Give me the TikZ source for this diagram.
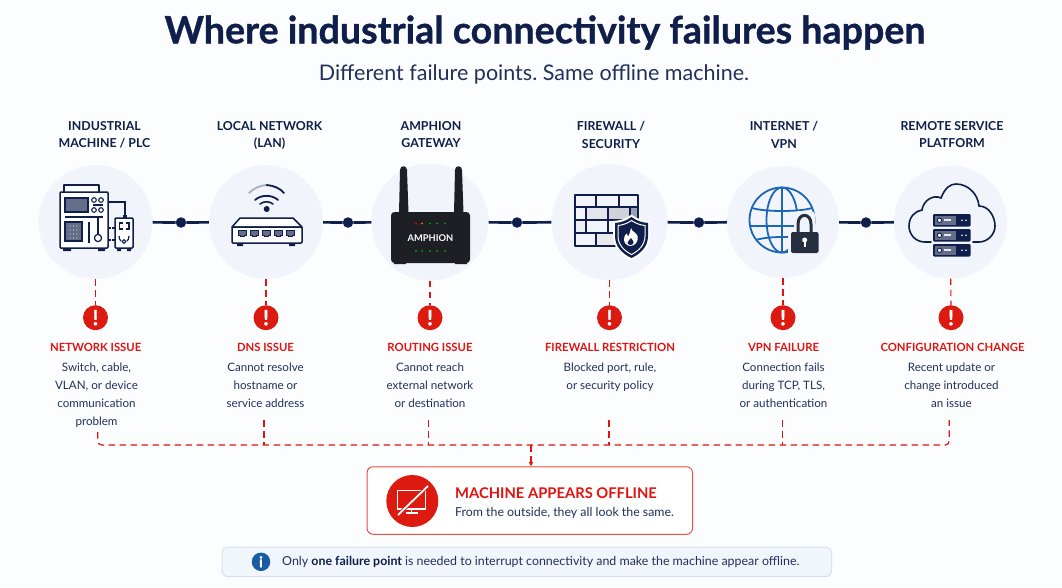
\documentclass[tikz,border=0pt]{standalone}
\usepackage{fontspec}
\setmainfont{Lato}
\newfontfamily\titlefont[BoldFeatures={FakeBold=0.9}]{Lato}
\usetikzlibrary{arrows.meta}
\definecolor{navy}{HTML}{0F1E4A}
\definecolor{inkblue}{HTML}{22305A}
\definecolor{halo}{HTML}{F1F4FB}
\definecolor{alert}{HTML}{E0130F}
\definecolor{alertdark}{HTML}{DC1A10}
\definecolor{panelgray}{HTML}{646E88}
\definecolor{globeblue}{HTML}{1B66B5}
\definecolor{noteback}{HTML}{F1F5FC}
\definecolor{noteedge}{HTML}{D5E0F1}
\definecolor{lockdark}{HTML}{252F3F}
\definecolor{gatewaybody}{HTML}{1D1F24}
\newcommand{\px}[1]{\fontsize{#1}{#1}\selectfont}
\frenchspacing
\tikzset{
  hub/.style={circle,fill=halo,minimum size=114pt,inner sep=0pt},
  joint/.style={circle,fill=navy,minimum size=10.5pt,inner sep=0pt},
  link/.style={navy,line width=2.7pt},
  faultline/.style={alert,line width=1.2pt,dash pattern=on 6.5pt off 4.5pt},
  badge/.style={circle,fill=alertdark,minimum size=25pt,inner sep=0pt,text=white,font=\px{21}\titlefont\bfseries},
  heading/.style={navy,font=\px{12.35}\bfseries,align=center,text depth=0pt,inner sep=0pt},
  faulttitle/.style={alert,font=\px{11.3}\bfseries,inner sep=0pt},
  faultbody/.style={inkblue,font=\px{11.6},align=center,inner sep=0pt},
  iconline/.style={navy,line width=1.5pt,line join=round},
}
\begin{document}
\begin{tikzpicture}[x=1pt,y=-1pt]
\useasboundingbox (0,0) rectangle (1062,587);
\fill[white!80!halo] (0,0) rectangle (1062,587);

% title block
\node[name=title,navy,inner sep=0pt,font=\px{37.6}\titlefont\bfseries] at (545,32.5) {Where industrial connectivity failures happen};
\node[name=subtitle,inkblue,inner sep=0pt,font=\px{21.5}] at (534,74.5) {Different failure points. Same offline machine.};

% column headings
\node[heading,name=h1] at (104.5,134.5) {INDUSTRIAL\\[5.5pt]MACHINE / PLC};
\node[heading,name=h2] at (269.5,134.5) {LOCAL NETWORK\\[5.5pt](LAN)};
\node[heading,name=h3] at (431,134.5) {AMPHION\\[5.5pt]GATEWAY};
\node[heading,name=h4] at (611,134.5) {FIREWALL /\\[5.5pt]SECURITY};
\node[heading,name=h5] at (784,134.5) {INTERNET /\\[5.5pt]VPN};
\node[heading,name=h6] at (952,134.5) {REMOTE SERVICE\\[5.5pt]PLATFORM};

% hubs and the chain joining them
\node[hub,name=c1] at (95.5,222) {};
\node[hub,name=c2] at (266,222) {};
\node[hub,name=c3,minimum size=117pt] at (430,222) {};
\node[hub,name=c4,minimum size=116pt] at (609.5,222) {};
\node[hub,name=c5,minimum size=112pt] at (783,222) {};
\node[hub,name=c6,minimum size=113pt] at (950.5,222) {};
\node[joint,name=d1] at (181,222.5) {};
\node[joint,name=d2] at (348,222.5) {};
\node[joint,name=d3] at (517,222.5) {};
\node[joint,name=d4] at (699,222.5) {};
\node[joint,name=d5] at (866,222.5) {};
\draw[link] (c1) -- (d1) -- (c2);
\draw[link] (c2) -- (d2) -- (c3);
\draw[link] (c3) -- (d3) -- (c4);
\draw[link] (c4) -- (d4) -- (c5);
\draw[link] (c5) -- (d5) -- (c6);

% machine and controller icon
\draw[iconline,fill=white] (64,192) -- (64,185) -- (99,185) -- (99,192);
\draw[iconline,fill=white,rounded corners=1pt] (60,192) rectangle (108,248);
\fill[navy] (63,248) rectangle (71,251) (98,248) rectangle (105,251);
\draw[navy,line width=1.1pt,fill=panelgray] (65,198) rectangle (88,212);
\foreach \cx in {94,101} \foreach \cy in {200,210} \draw[navy,line width=1.1pt] (\cx,\cy) circle (2.3);
\draw[navy,line width=1.1pt] (93,205) -- (103,205) (65,217) -- (103,217);
\draw[navy,line width=1.1pt,fill=panelgray] (65,222) rectangle (82,241);
\foreach \cx in {70,73.5,77} \foreach \cy in {226,230,234,238} \fill[white!80!panelgray] (\cx,\cy) circle (.6);
\draw[navy,line width=1.2pt] (89,222) -- (89,243) (98,217) -- (98,234.5);
\draw[navy,line width=1.2pt] (98,238) circle (3.6);
\draw[navy,line width=1.2pt] (108,202) -- (125,202) -- (125,217);
\draw[navy,line width=1.2pt,dash pattern=on 2.5pt off 1.5pt] (108,228) -- (115,228) (108,240) -- (115,240);
\fill[navy] (123,214.5) rectangle (127,218);
\draw[iconline,fill=white,rounded corners=1pt] (115,218) rectangle (133,248);
\fill[navy] (117,248) rectangle (121,251) (127,248) rectangle (131,251);
\draw[navy,line width=1.2pt] (122.5,223) -- (119.5,223) -- (119.5,229) -- (122.5,229) (126,223) -- (129,223) -- (129,229) -- (126,229);
\draw[navy,line width=1pt] (124,241.5) circle (1.9);
\draw[navy,line width=1.2pt] (119,236) .. controls (119,239) and (120,240) .. (121,241) (129,236) .. controls (129,239) and (128,240) .. (127,241);

% switch with wireless signal
\fill[navy] (266.7,209) circle (3);
\draw[navy,line width=1.6pt,line cap=round] (260,204) .. controls (264,201) and (269,201) .. (273,204);
\draw[navy,line width=1.8pt,line cap=round] (255,200) .. controls (261,194.5) and (272,194.5) .. (278,200);
\draw[panelgray!55,line width=1.8pt,line cap=round] (249,193) .. controls (254,188) and (260,185.5) .. (266.7,185);
\draw[navy,line width=1.8pt,line cap=round] (266.7,185) .. controls (273,185.5) and (280,188) .. (284,193);
\draw[iconline,fill=white] (240,218) -- (293,218) -- (302,227) -- (232,227) -- cycle;
\draw[iconline,fill=white,rounded corners=1pt] (232,227) rectangle (302,243);
\fill[navy] (237,243) rectangle (243,246) (289,243) rectangle (295,246);
\foreach \cx in {242,254,266,278,290} \fill[panelgray,draw=navy,line width=1pt] (\cx-4,230) -- (\cx+4,230) -- (\cx+4,235) -- (\cx+2,235) -- (\cx+2,236.5) -- (\cx-2,236.5) -- (\cx-2,235) -- (\cx-4,235) -- cycle;

% gateway with antennas
\fill[gatewaybody] (399,213) -- (400,170) .. controls (400,165) and (407,165) .. (407,170) -- (408.5,213) -- cycle;
\fill[gatewaybody] (454,213) -- (455,170) .. controls (455,165) and (462,165) .. (462,170) -- (463.5,213) -- cycle;
\fill[gatewaybody,rounded corners=3.5pt] (391,212) rectangle (470,263);
\fill[gatewaybody] (394,263) rectangle (406,264) (455,263) rectangle (467,264);
\foreach \cx/\led in {416/red!85!black,422/orange!70!red,430/green!60!black,437/green!65!black,445/green!60!black}
  \fill[\led] (\cx,223.5) circle (1.1);
\foreach \cx in {416,422,430,437,445} \fill[green!60!black] (\cx,251) circle (1.1);
\node[name=gwlabel,white,inner sep=0pt,font=\px{9.3}\bfseries] at (430.5,238) {AMPHION};

% brick wall and shield
\fill[panelgray!18] (586,207) rectangle (608,220);
\fill[panelgray!30] (608,207) rectangle (630,220);
\fill[panelgray!65] (630,207) rectangle (638,220);
\fill[panelgray!12] (575,220) rectangle (586,233);
\fill[panelgray!15] (596,233) rectangle (619,246);
\draw[navy,line width=1.4pt,line join=round] (575,195) rectangle (638,246);
\draw[navy,line width=1.3pt] (575,207) -- (638,207) (575,220) -- (638,220) (575,233) -- (638,233)
  (596,195) -- (596,207) (619,195) -- (619,207)
  (586,207) -- (586,233) (608,207) -- (608,233) (630,207) -- (630,220)
  (596,233) -- (596,246) (619,233) -- (619,246);
\path[fill=white] (631.5,214.5) .. controls (637,219) and (643,220.5) .. (650,221) -- (650,236) .. controls (650,248) and (641,256) .. (631.5,260.5) .. controls (622,256) and (613,248) .. (613,236) -- (613,221) .. controls (620,220.5) and (626,219) .. (631.5,214.5) -- cycle;
\path[fill=navy] (631.5,217) .. controls (637,221) and (642,222.5) .. (648,223) -- (648,236) .. controls (648,247) and (640,254) .. (631.5,258) .. controls (623,254) and (615,247) .. (615,236) -- (615,223) .. controls (621,222.5) and (626,221) .. (631.5,217) -- cycle;
\draw[white,line width=1pt] (631.5,220.5) .. controls (636,223.5) and (640,225) .. (645,225.5) -- (645,236) .. controls (645,245) and (638.5,251) .. (631.5,254.5) .. controls (624.5,251) and (618,245) .. (618,236) -- (618,225.5) .. controls (623,225) and (627,223.5) .. (631.5,220.5) -- cycle;
\path[fill=white] (631,228) .. controls (632,232) and (636,232) .. (637.5,236) .. controls (639,241) and (635,246) .. (630.5,246) .. controls (626,246) and (622.5,241.5) .. (624.5,236.5) .. controls (625,235) and (626,234) .. (627,233.5) .. controls (627,235) and (627.5,236) .. (628.5,236) .. controls (630,234) and (630,231) .. (631,228) -- cycle;
\path[fill=navy] (631,238) .. controls (632.5,240) and (633.5,241) .. (633.5,242.5) .. controls (633.5,244) and (632,245) .. (630.5,245) .. controls (629,245) and (627.5,244) .. (627.5,242.5) .. controls (627.5,241) and (630,240) .. (631,238) -- cycle;

% globe with padlock
\begin{scope}[globeblue,line width=1.8pt]
  \draw (782,220) circle (32.5);
  \draw (782,187.5) -- (782,252.5);
  \draw (782,220) ellipse (15.5 and 32.5);
  \draw (752,208) .. controls (765,212) and (799,212) .. (812,208);
  \draw (750,226) -- (814,226);
  \draw (756,240) .. controls (768,236) and (796,236) .. (808,240);
\end{scope}
\fill[halo,rounded corners=4pt] (794,211) rectangle (815,232);
\fill[halo,rounded corners=3pt] (788,229) rectangle (821,256);
\draw[lockdark,line width=3pt] (798,233) -- (798,224) .. controls (798,212.5) and (811,212.5) .. (811,224) -- (811,233);
\fill[lockdark,rounded corners=2pt] (791,232) rectangle (818.5,253);
\fill[white] (804.7,240) circle (2.5);
\fill[white] (803.5,240) rectangle (806,247);

% cloud with server stack
\draw[navy,line width=1.6pt,line cap=round] (931,242) -- (925,242) .. controls (915,242) and (909,234) .. (909,226) .. controls (909,217) and (915,211) .. (922,210) .. controls (923,201) and (933,194) .. (941,198) .. controls (945,188) and (950,184) .. (956,184) .. controls (968,184) and (978,194) .. (979,206) .. controls (989,206) and (995,217) .. (995,226) .. controls (995,235) and (987,242) .. (979,242) -- (973,242);
\foreach \ty in {214,229,244} {
  \fill[navy,rounded corners=1.2pt] (933,\ty) rectangle (970.5,\ty+12.5);
  \fill[panelgray] (935,\ty+1.5) rectangle (956,\ty+11);
  \draw[navy,fill=white,line width=.9pt] (939.5,\ty+6.3) circle (2.2);
  \fill[white!85!panelgray] (944,\ty+5.4) rectangle (951,\ty+7.2);
  \fill[white] (962,\ty+6.3) circle (.9) (966,\ty+6.3) circle (.9);
}

% alert badges
\node[badge,name=b1] at (95.5,317.7) {!};
\node[badge,name=b2] at (266,317.7) {!};
\node[badge,name=b3] at (430,317.7) {!};
\node[badge,name=b4] at (609.5,317.7) {!};
\node[badge,name=b5] at (783,317.7) {!};
\node[badge,name=b6] at (951,317.7) {!};
\foreach \n in {1,...,6} \draw[faultline] (c\n) -- (b\n);

% fault descriptions
\node[faulttitle,name=f1] at (95.7,347.2) {NETWORK ISSUE};
\node[faulttitle,name=f2] at (265.5,347.2) {DNS ISSUE};
\node[faulttitle,name=f3] at (430,347.2) {ROUTING ISSUE};
\node[faulttitle,name=f4] at (610,347.2) {FIREWALL RESTRICTION};
\node[faulttitle,name=f5] at (783.5,347.2) {VPN FAILURE};
\node[faulttitle,name=f6] at (952.5,347.2) {CONFIGURATION CHANGE};
\node[faultbody,name=t1,anchor=north] at (96.5,363) {Switch, cable,\\[6.4pt]VLAN, or device\\[6.4pt]communication\\[6.4pt]problem};
\node[faultbody,name=t2,anchor=north] at (265.5,363) {Cannot resolve\\[6.4pt]hostname or\\[6.4pt]service address};
\node[faultbody,name=t3,anchor=north] at (430,363) {Cannot reach\\[6.4pt]external network\\[6.4pt]or destination};
\node[faultbody,name=t4,anchor=north] at (610,363) {Blocked port, rule,\\[6.4pt]or security policy};
\node[faultbody,name=t5,anchor=north] at (783.5,363) {Connection fails\\[6.4pt]during TCP, TLS,\\[6.4pt]or authentication};
\node[faultbody,name=t6,anchor=north] at (951.5,363) {Recent update or\\[6.4pt]change introduced\\[6.4pt]an issue};

% shared fault bus leading to the outcome box
\coordinate (s1) at (97.7,432);
\coordinate (s2) at (264,420);
\coordinate (s3) at (428.7,420);
\coordinate (s4) at (609,420);
\coordinate (s5) at (782.7,420);
\coordinate (s6) at (949.3,420);
\coordinate (k1) at (97.7,445);
\coordinate (k6) at (949.3,445);
\coordinate (merge) at (531,445);
\draw[faultline,rounded corners=4pt] (s1) -- (k1) -- (k6) -- (s6);
\foreach \n in {2,3,4,5} \draw[faultline] (s\n) -- (s\n |- k1);

\node[name=outcome,draw=alert!75,fill=white,line width=1pt,rounded corners=6pt,minimum width=325.5pt,minimum height=67.5pt,inner sep=0pt] at (529.8,500.5) {};
\draw[faultline,-{Stealth[length=4.5pt,width=4.5pt]}] (merge) -- (merge |- outcome.north);

\node[name=offdisc,circle,fill=alertdark,minimum size=52pt,inner sep=0pt] at (412.3,501) {};
\draw[white,line width=1.6pt] (397.5,490.5) rectangle (425.5,509);
\draw[white,line width=1.4pt] (411.5,509) -- (411.5,512.5);
\draw[white,line width=1.6pt] (405.5,512.8) -- (418,512.8);
\draw[alertdark,line width=3.6pt] (428,486) -- (398,515);
\draw[white,line width=1.8pt] (428,486) -- (398,515);
\node[name=offtitle,anchor=west,alert,inner sep=0pt,font=\px{14.75}\bfseries] at (455,493) {MACHINE APPEARS OFFLINE};
\node[name=offtext,anchor=west,inkblue,inner sep=0pt,font=\px{12.35}] at (455,513.3) {From the outside, they all look the same.};

% closing note
\node[name=note,draw=noteedge,fill=noteback,line width=1pt,rounded corners=6pt,minimum width=609.5pt,minimum height=29.5pt,inner sep=0pt] at (526.8,561.9) {};
\node[name=infodisc,circle,fill=globeblue!90!black,minimum size=18.5pt,inner sep=0pt,text=white,font=\px{15}\titlefont\bfseries] at (261,561.8) {i};
\node[name=notetext,anchor=west,inkblue,inner sep=0pt,font=\px{12.4}] at (282,561.9) {Only {\bfseries\color{navy}one failure point} is needed to interrupt connectivity and make the machine appear offline.};
\end{tikzpicture}
\end{document}
